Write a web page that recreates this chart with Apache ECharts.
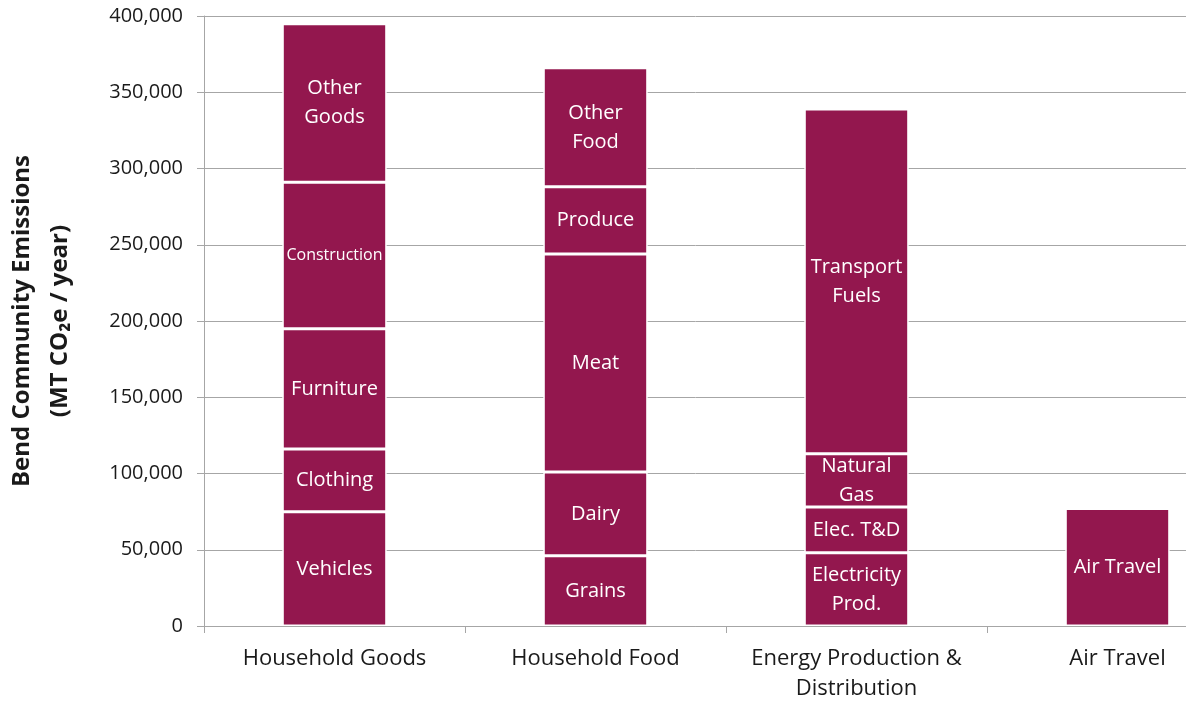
<!DOCTYPE html>
<html>
<head>
<meta charset="utf-8">
<script src="https://cdn.jsdelivr.net/npm/echarts@6/dist/echarts.min.js"></script>
<style>
  html, body { margin: 0; padding: 0; background: #fff; }
  #chart { width: 1186px; height: 706px; }
</style>
</head>
<body>
<div id="chart"></div>
<script>
const categories = ['Household Goods', 'Household Food', 'Energy Production &\nDistribution', 'Air Travel'];

// segments of each column, bottom to top
const goodsParts = ['Vehicles', 'Clothing', 'Furniture', 'Construction', 'Other\nGoods'];
const goodsValues = [75000, 41000, 79000, 96000, 104000];

const foodParts = ['Grains', 'Dairy', 'Meat', 'Produce', 'Other\nFood'];
const foodValues = [46000, 55000, 143000, 44000, 78000];

const energyParts = ['Electricity\nProd.', 'Elec. T&D', 'Natural\nGas', 'Transport\nFuels'];
const energyValues = [48000, 30000, 35000, 226000];

const airParts = ['Air Travel'];
const airValues = [77000];

const yTicks = [0, 50000, 100000, 150000, 200000, 250000, 300000, 350000, 400000];

const barColor = '#93174e';
const font = 'Open Sans';

const groups = [
  [goodsParts, goodsValues],
  [foodParts, foodValues],
  [energyParts, energyValues],
  [airParts, airValues]
];

const series = [];
groups.forEach((g, ci) => {
  g[0].forEach((name, i) => {
    const data = categories.map((c, k) => (k === ci ? g[1][i] : '-'));
    series.push({
      name: name,
      type: 'bar',
      stack: 'total',
      barWidth: '40%',
      data: data,
      itemStyle: { color: barColor, borderColor: '#ffffff', borderWidth: 1.5 },
      label: {
        show: true,
        position: 'inside',
        formatter: name,
        color: '#ffffff',
        fontFamily: font,
        fontSize: name === 'Construction' ? 16 : 20,
        lineHeight: 29
      }
    });
  });
});

const chart = echarts.init(document.getElementById('chart'));
chart.setOption({
  animation: false,
  grid: { left: 204, top: 16, width: 1044, bottom: 80, containLabel: false, outerBoundsMode: 'none' },
  xAxis: {
    type: 'category',
    data: categories,
    axisLine: { lineStyle: { color: '#a6a6a6', width: 1 } },
    axisTick: { show: true, interval: 0, length: 7, lineStyle: { color: '#a6a6a6' } },
    axisLabel: {
      interval: 0,
      hideOverlap: false,
      color: '#1a1a1a',
      fontFamily: font,
      fontSize: 22,
      lineHeight: 30,
      margin: 18
    }
  },
  yAxis: {
    type: 'value',
    min: 0,
    max: yTicks[yTicks.length - 1],
    interval: 50000,
    name: 'Bend Community Emissions\n(MT CO\u2082e / year)',
    nameLocation: 'middle',
    nameRotate: 90,
    nameGap: 125,
    nameTextStyle: {
      color: '#1a1a1a',
      fontFamily: font,
      fontSize: 24,
      fontWeight: 'bold',
      lineHeight: 38
    },
    axisLine: { show: true, lineStyle: { color: '#a6a6a6', width: 1 } },
    axisTick: { show: true, length: 7, lineStyle: { color: '#a6a6a6' } },
    splitLine: { show: true, lineStyle: { color: '#a6a6a6', width: 1 } },
    axisLabel: {
      color: '#1a1a1a',
      fontFamily: font,
      fontSize: 20,
      margin: 21,
      formatter: v => v.toLocaleString('en-US')
    }
  },
  series: series
});
</script>
</body>
</html>
